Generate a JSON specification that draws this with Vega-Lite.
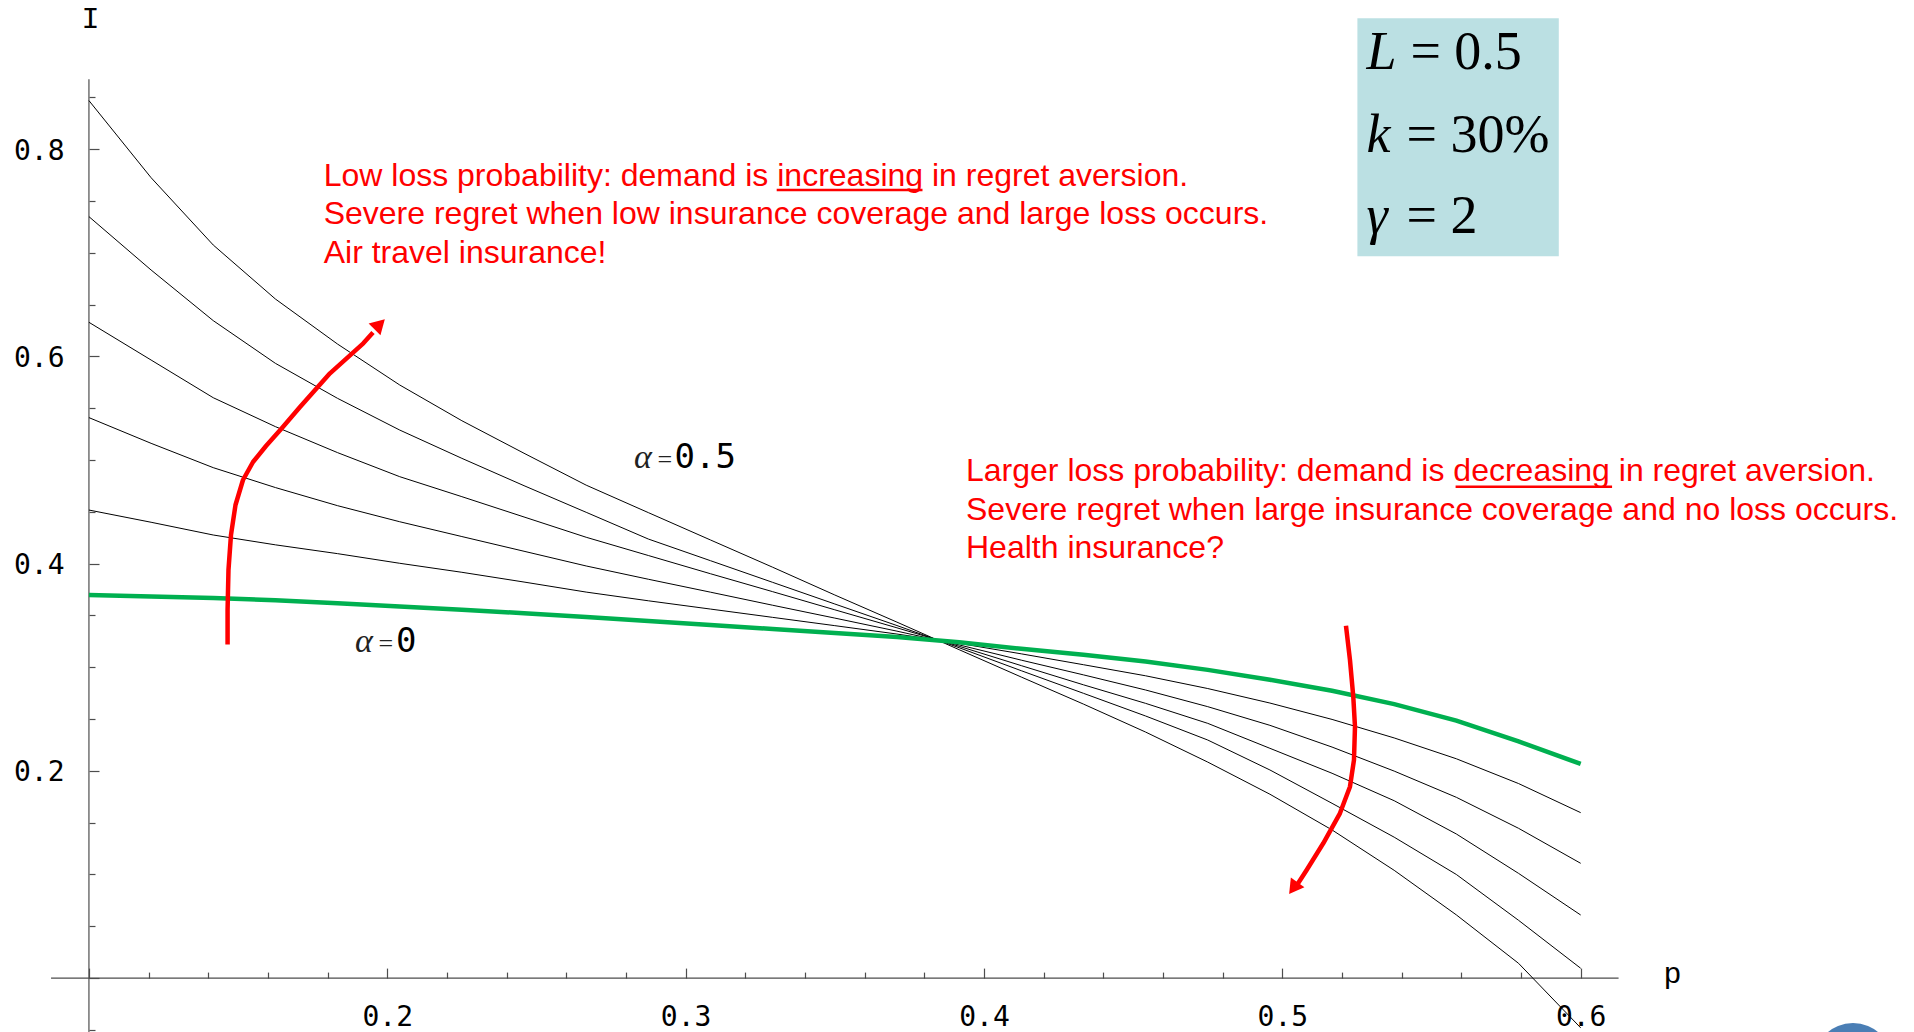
{
"$schema": "https://vega.github.io/schema/vega-lite/v6.json",
"width": 1914,
"height": 1032,
"autosize": {"type": "none"},
"padding": 0,
"background": "white",
"config": {"view": {"stroke": null}},
"resolve": {"axis": {"x": "independent", "y": "independent"}},
"datasets": {
"curves": [
{"a":0,"p":0.1,"I":0.3698},{"a":0,"p":0.120833,"I":0.3683},{"a":0,"p":0.141667,"I":0.3669},{"a":0,"p":0.1625,"I":0.3647},{"a":0,"p":0.183333,"I":0.3618},{"a":0,"p":0.204167,"I":0.3587},{"a":0,"p":0.225,"I":0.3555},{"a":0,"p":0.245833,"I":0.3522},{"a":0,"p":0.266667,"I":0.3486},{"a":0,"p":0.2875,"I":0.3447},{"a":0,"p":0.308333,"I":0.3408},{"a":0,"p":0.329167,"I":0.337},{"a":0,"p":0.35,"I":0.3331},{"a":0,"p":0.370833,"I":0.3292},{"a":0,"p":0.391667,"I":0.3242},{"a":0,"p":0.4125,"I":0.3178},{"a":0,"p":0.433333,"I":0.3122},{"a":0,"p":0.454167,"I":0.3055},{"a":0,"p":0.475,"I":0.2975},{"a":0,"p":0.495833,"I":0.288},{"a":0,"p":0.516667,"I":0.2773},{"a":0,"p":0.5375,"I":0.2645},{"a":0,"p":0.558333,"I":0.2485},{"a":0,"p":0.579167,"I":0.2285},{"a":0,"p":0.6,"I":0.2067},
{"a":0.1,"p":0.1,"I":0.4518},{"a":0.1,"p":0.120833,"I":0.44},{"a":0.1,"p":0.141667,"I":0.4277},{"a":0.1,"p":0.1625,"I":0.4182},{"a":0.1,"p":0.183333,"I":0.4097},{"a":0.1,"p":0.204167,"I":0.4004},{"a":0.1,"p":0.225,"I":0.3917},{"a":0.1,"p":0.245833,"I":0.3823},{"a":0.1,"p":0.266667,"I":0.3726},{"a":0.1,"p":0.2875,"I":0.3642},{"a":0.1,"p":0.308333,"I":0.3562},{"a":0.1,"p":0.329167,"I":0.3482},{"a":0.1,"p":0.35,"I":0.3402},{"a":0.1,"p":0.370833,"I":0.3321},{"a":0.1,"p":0.391667,"I":0.3231},{"a":0.1,"p":0.4125,"I":0.313},{"a":0.1,"p":0.433333,"I":0.3025},{"a":0.1,"p":0.454167,"I":0.2918},{"a":0.1,"p":0.475,"I":0.2795},{"a":0.1,"p":0.495833,"I":0.2655},{"a":0.1,"p":0.516667,"I":0.2497},{"a":0.1,"p":0.5375,"I":0.2318},{"a":0.1,"p":0.558333,"I":0.2117},{"a":0.1,"p":0.579167,"I":0.1878},{"a":0.1,"p":0.6,"I":0.1597},
{"a":0.2,"p":0.1,"I":0.541},{"a":0.2,"p":0.120833,"I":0.5162},{"a":0.2,"p":0.141667,"I":0.4927},{"a":0.2,"p":0.1625,"I":0.4735},{"a":0.2,"p":0.183333,"I":0.456},{"a":0.2,"p":0.204167,"I":0.4405},{"a":0.2,"p":0.225,"I":0.4262},{"a":0.2,"p":0.245833,"I":0.412},{"a":0.2,"p":0.266667,"I":0.3978},{"a":0.2,"p":0.2875,"I":0.385},{"a":0.2,"p":0.308333,"I":0.3725},{"a":0.2,"p":0.329167,"I":0.3599},{"a":0.2,"p":0.35,"I":0.3475},{"a":0.2,"p":0.370833,"I":0.3349},{"a":0.2,"p":0.391667,"I":0.3216},{"a":0.2,"p":0.4125,"I":0.3069},{"a":0.2,"p":0.433333,"I":0.2927},{"a":0.2,"p":0.454167,"I":0.2781},{"a":0.2,"p":0.475,"I":0.262},{"a":0.2,"p":0.495833,"I":0.244},{"a":0.2,"p":0.516667,"I":0.223},{"a":0.2,"p":0.5375,"I":0.1998},{"a":0.2,"p":0.558333,"I":0.1745},{"a":0.2,"p":0.579167,"I":0.1446},{"a":0.2,"p":0.6,"I":0.1108},
{"a":0.3,"p":0.1,"I":0.633},{"a":0.3,"p":0.120833,"I":0.5966},{"a":0.3,"p":0.141667,"I":0.5602},{"a":0.3,"p":0.1625,"I":0.5323},{"a":0.3,"p":0.183333,"I":0.5072},{"a":0.3,"p":0.204167,"I":0.484},{"a":0.3,"p":0.225,"I":0.4647},{"a":0.3,"p":0.245833,"I":0.4451},{"a":0.3,"p":0.266667,"I":0.4255},{"a":0.3,"p":0.2875,"I":0.4079},{"a":0.3,"p":0.308333,"I":0.3903},{"a":0.3,"p":0.329167,"I":0.373},{"a":0.3,"p":0.35,"I":0.3555},{"a":0.3,"p":0.370833,"I":0.3381},{"a":0.3,"p":0.391667,"I":0.3203},{"a":0.3,"p":0.4125,"I":0.3016},{"a":0.3,"p":0.433333,"I":0.2831},{"a":0.3,"p":0.454167,"I":0.2652},{"a":0.3,"p":0.475,"I":0.2459},{"a":0.3,"p":0.495833,"I":0.2218},{"a":0.3,"p":0.516667,"I":0.1977},{"a":0.3,"p":0.5375,"I":0.1712},{"a":0.3,"p":0.558333,"I":0.1391},{"a":0.3,"p":0.579167,"I":0.1011},{"a":0.3,"p":0.6,"I":0.0609},
{"a":0.4,"p":0.1,"I":0.735},{"a":0.4,"p":0.120833,"I":0.6835},{"a":0.4,"p":0.141667,"I":0.6346},{"a":0.4,"p":0.1625,"I":0.5934},{"a":0.4,"p":0.183333,"I":0.5596},{"a":0.4,"p":0.204167,"I":0.529},{"a":0.4,"p":0.225,"I":0.5017},{"a":0.4,"p":0.245833,"I":0.4753},{"a":0.4,"p":0.266667,"I":0.4496},{"a":0.4,"p":0.2875,"I":0.4238},{"a":0.4,"p":0.308333,"I":0.4029},{"a":0.4,"p":0.329167,"I":0.382},{"a":0.4,"p":0.35,"I":0.3611},{"a":0.4,"p":0.370833,"I":0.3403},{"a":0.4,"p":0.391667,"I":0.3189},{"a":0.4,"p":0.4125,"I":0.2967},{"a":0.4,"p":0.433333,"I":0.2749},{"a":0.4,"p":0.454167,"I":0.253},{"a":0.4,"p":0.475,"I":0.2298},{"a":0.4,"p":0.495833,"I":0.2009},{"a":0.4,"p":0.516667,"I":0.1687},{"a":0.4,"p":0.5375,"I":0.136},{"a":0.4,"p":0.558333,"I":0.1},{"a":0.4,"p":0.579167,"I":0.0558},{"a":0.4,"p":0.6,"I":0.0095},
{"a":0.5,"p":0.1,"I":0.847},{"a":0.5,"p":0.120833,"I":0.7726},{"a":0.5,"p":0.141667,"I":0.7076},{"a":0.5,"p":0.1625,"I":0.6555},{"a":0.5,"p":0.183333,"I":0.612},{"a":0.5,"p":0.204167,"I":0.5725},{"a":0.5,"p":0.225,"I":0.538},{"a":0.5,"p":0.245833,"I":0.5066},{"a":0.5,"p":0.266667,"I":0.4758},{"a":0.5,"p":0.2875,"I":0.4493},{"a":0.5,"p":0.308333,"I":0.4229},{"a":0.5,"p":0.329167,"I":0.3966},{"a":0.5,"p":0.35,"I":0.3698},{"a":0.5,"p":0.370833,"I":0.3436},{"a":0.5,"p":0.391667,"I":0.317},{"a":0.5,"p":0.4125,"I":0.2906},{"a":0.5,"p":0.433333,"I":0.2645},{"a":0.5,"p":0.454167,"I":0.2375},{"a":0.5,"p":0.475,"I":0.2085},{"a":0.5,"p":0.495833,"I":0.1775},{"a":0.5,"p":0.516667,"I":0.143},{"a":0.5,"p":0.5375,"I":0.104},{"a":0.5,"p":0.558333,"I":0.061},{"a":0.5,"p":0.579167,"I":0.0143},{"a":0.5,"p":0.6,"I":-0.048}
],
"arrows": [
{"id":"a","k":1,"p":0.14647,"I":0.32201},{"id":"a","k":2,"p":0.14647,"I":0.35531},{"id":"a","k":3,"p":0.14677,"I":0.39392},{"id":"a","k":4,"p":0.14761,"I":0.4277},{"id":"a","k":5,"p":0.14912,"I":0.45666},{"id":"a","k":6,"p":0.15163,"I":0.48079},{"id":"a","k":7,"p":0.15499,"I":0.49817},{"id":"a","k":8,"p":0.15934,"I":0.51361},{"id":"a","k":9,"p":0.16471,"I":0.53099},{"id":"a","k":10,"p":0.17074,"I":0.55126},{"id":"a","k":11,"p":0.18079,"I":0.58378},{"id":"a","k":12,"p":0.19196,"I":0.61274},{"id":"a","k":13,"p":0.19521,"I":0.62317},
{"id":"b","k":1,"p":0.52133,"I":0.34015},{"id":"b","k":2,"p":0.52267,"I":0.30705},{"id":"b","k":3,"p":0.52378,"I":0.27162},{"id":"b","k":4,"p":0.52435,"I":0.24266},{"id":"b","k":5,"p":0.52401,"I":0.21052},{"id":"b","k":6,"p":0.52267,"I":0.18475},{"id":"b","k":7,"p":0.51931,"I":0.15907},{"id":"b","k":8,"p":0.51372,"I":0.13012},{"id":"b","k":9,"p":0.50816,"I":0.10434},{"id":"b","k":10,"p":0.50491,"I":0.08986}
],
"headA": [{"p":0.19745,"I":0.63108}],
"headB": [{"p":0.5037,"I":0.08678}],
"axislines": [{"p":0.0873,"p2":0.6127,"I":0,"I2":0},{"p":0.1,"p2":0.1,"I":-0.07,"I2":0.8676}],
"box": [{"p":0.52516,"p2":0.59266,"I":0.69672,"I2":0.92645}],
"notes": [
{"p":0.17868,"I":0.76486,"t":"Low loss probability: demand is increasing in regret aversion."},
{"p":0.17868,"I":0.7278,"t":"Severe regret when low insurance coverage and large loss occurs."},
{"p":0.17868,"I":0.69073,"t":"Air travel insurance!"},
{"p":0.39397,"I":0.47983,"t":"Larger loss probability: demand is decreasing in regret aversion."},
{"p":0.39397,"I":0.44257,"t":"Severe regret when large insurance coverage and no loss occurs."},
{"p":0.39397,"I":0.40531,"t":"Health insurance?"}
],
"underlines": [{"p":0.33052,"p2":0.37939,"I":0.76071},{"p":0.55807,"p2":0.61052,"I":0.47432}],
"boxvars": [{"p":0.5282,"I":0.87722,"t":"L"},{"p":0.5282,"I":0.79768,"t":"k"},{"p":0.5282,"I":0.71892,"t":"γ"}],
"boxvals": [{"p":0.54292,"I":0.87722,"t":"= 0.5"},{"p":0.54161,"I":0.79768,"t":"= 30%"},{"p":0.54161,"I":0.71892,"t":"= 2"}],
"alphas": [{"p":0.28269,"I":0.49208,"t":"α"},{"p":0.18918,"I":0.31448,"t":"α"}],
"equals": [{"p":0.2906,"I":0.49208,"t":"="},{"p":0.19702,"I":0.31448,"t":"="}],
"alphanums": [{"p":0.2963,"I":0.49208,"t":"0.5"},{"p":0.20292,"I":0.31448,"t":"0"}],
"axisnames": [{"p":0.10052,"I":0.91737,"t":"I"},{"p":0.63077,"I":-0.00502,"t":"p"}],
"corner": [{"p":0.69127,"I":-0.0812}]
},
"layer": [
{"data":{"name":"box"},"mark":{"type":"rect","color":"#BBE0E3"},
 "encoding":{"x":{"field":"p","type":"quantitative","scale":{"domain":[0.07019,0.71172],"nice":false,"zero":false},"axis":null},"x2":{"field":"p2"},
 "y":{"field":"I","type":"quantitative","scale":{"domain":[-0.05203,0.94411],"nice":false,"zero":false},"axis":null},"y2":{"field":"I2"}}},
{"data":{"name":"axislines"},"mark":{"type":"rule","color":"#4d4d4d","strokeWidth":1.2},
 "encoding":{"x":{"field":"p","type":"quantitative","scale":{"domain":[0.07019,0.71172],"nice":false,"zero":false},"axis":null},"x2":{"field":"p2"},
 "y":{"field":"I","type":"quantitative","scale":{"domain":[-0.05203,0.94411],"nice":false,"zero":false},"axis":null},"y2":{"field":"I2"}}},
{"data":{"name":"curves"},"transform":[{"filter":"datum.a > 0"}],
 "mark":{"type":"line","color":"black","strokeWidth":1},
 "encoding":{
  "x":{"field":"p","type":"quantitative","scale":{"domain":[0.07019,0.71172],"nice":false,"zero":false},
   "axis":{"orient":"top","offset":-978.1,"values":[0.1,0.12,0.14,0.16,0.18,0.2,0.22,0.24,0.26,0.28,0.3,0.32,0.34,0.36,0.38,0.4,0.42,0.44,0.46,0.48,0.5,0.52,0.54,0.56,0.58,0.6],
    "labels":false,"domain":false,"grid":false,"title":null,"ticks":true,"tickColor":"#4d4d4d","tickWidth":1.2,
    "tickSize":{"condition":{"test":"abs(datum.value*10-round(datum.value*10))<0.001","value":10},"value":6}}},
  "y":{"field":"I","type":"quantitative","scale":{"domain":[-0.05203,0.94411],"nice":false,"zero":false},
   "axis":{"orient":"right","offset":-1825,"values":[-0.05,0,0.05,0.1,0.15,0.2,0.25,0.3,0.35,0.4,0.45,0.5,0.55,0.6,0.65,0.7,0.75,0.8,0.85],
    "labels":false,"domain":false,"grid":false,"title":null,"ticks":true,"tickColor":"#4d4d4d","tickWidth":1.2,
    "tickSize":{"condition":{"test":"abs(datum.value*5-round(datum.value*5))<0.001","value":10},"value":6}}},
  "detail":{"field":"a","type":"nominal"}}},
{"data":{"name":"curves"},"transform":[{"filter":"datum.a == 0"}],
 "mark":{"type":"line","color":"#00B050","strokeWidth":4.5},
 "encoding":{
  "x":{"field":"p","type":"quantitative","scale":{"domain":[0.07019,0.71172],"nice":false,"zero":false},
   "axis":{"orient":"bottom","offset":-53.9,"values":[0.2,0.3,0.4,0.5,0.6],"format":".1f","ticks":false,"tickSize":0,"domain":false,"grid":false,"title":null,
    "labelFont":"DejaVu Sans Mono","labelFontSize":28,"labelColor":"black","labelPadding":39,"labelBaseline":"middle","labelFlush":false,"labelOverlap":false}},
  "y":{"field":"I","type":"quantitative","scale":{"domain":[-0.05203,0.94411],"nice":false,"zero":false},
   "axis":{"orient":"left","offset":-89,"values":[0.2,0.4,0.6,0.8],"format":".1f","ticks":false,"tickSize":0,"domain":false,"grid":false,"title":null,
    "labelFont":"DejaVu Sans Mono","labelFontSize":28,"labelColor":"black","labelPadding":25,"labelOffset":2,"labelBaseline":"middle","labelFlush":false,"labelOverlap":false}}}},
{"data":{"name":"arrows"},"mark":{"type":"line","color":"#FF0000","strokeWidth":4.5,"strokeJoin":"round"},
 "encoding":{"x":{"field":"p","type":"quantitative","scale":{"domain":[0.07019,0.71172],"nice":false,"zero":false},"axis":null},
 "y":{"field":"I","type":"quantitative","scale":{"domain":[-0.05203,0.94411],"nice":false,"zero":false},"axis":null},
 "detail":{"field":"id","type":"nominal"},"order":{"field":"k","type":"quantitative"}}},
{"data":{"name":"headA"},"mark":{"type":"point","shape":"triangle-up","filled":true,"color":"#FF0000","opacity":1,"size":280,"angle":45,"strokeWidth":0},
 "encoding":{"x":{"field":"p","type":"quantitative","scale":{"domain":[0.07019,0.71172],"nice":false,"zero":false},"axis":null},
 "y":{"field":"I","type":"quantitative","scale":{"domain":[-0.05203,0.94411],"nice":false,"zero":false},"axis":null}}},
{"data":{"name":"headB"},"mark":{"type":"point","shape":"triangle-up","filled":true,"color":"#FF0000","opacity":1,"size":280,"angle":216,"strokeWidth":0},
 "encoding":{"x":{"field":"p","type":"quantitative","scale":{"domain":[0.07019,0.71172],"nice":false,"zero":false},"axis":null},
 "y":{"field":"I","type":"quantitative","scale":{"domain":[-0.05203,0.94411],"nice":false,"zero":false},"axis":null}}},
{"data":{"name":"underlines"},"mark":{"type":"rule","color":"#FF0000","strokeWidth":2.5},
 "encoding":{"x":{"field":"p","type":"quantitative","scale":{"domain":[0.07019,0.71172],"nice":false,"zero":false},"axis":null},"x2":{"field":"p2"},
 "y":{"field":"I","type":"quantitative","scale":{"domain":[-0.05203,0.94411],"nice":false,"zero":false},"axis":null}}},
{"data":{"name":"notes"},"mark":{"type":"text","align":"left","baseline":"alphabetic","font":"Liberation Sans","fontSize":32,"color":"#FF0000"},
 "encoding":{"x":{"field":"p","type":"quantitative","scale":{"domain":[0.07019,0.71172],"nice":false,"zero":false},"axis":null},
 "y":{"field":"I","type":"quantitative","scale":{"domain":[-0.05203,0.94411],"nice":false,"zero":false},"axis":null},"text":{"field":"t"}}},
{"data":{"name":"boxvars"},"mark":{"type":"text","align":"left","baseline":"alphabetic","font":"Liberation Serif","fontStyle":"italic","fontSize":54,"color":"black"},
 "encoding":{"x":{"field":"p","type":"quantitative","scale":{"domain":[0.07019,0.71172],"nice":false,"zero":false},"axis":null},
 "y":{"field":"I","type":"quantitative","scale":{"domain":[-0.05203,0.94411],"nice":false,"zero":false},"axis":null},"text":{"field":"t"}}},
{"data":{"name":"boxvals"},"mark":{"type":"text","align":"left","baseline":"alphabetic","font":"Liberation Serif","fontSize":54,"color":"black"},
 "encoding":{"x":{"field":"p","type":"quantitative","scale":{"domain":[0.07019,0.71172],"nice":false,"zero":false},"axis":null},
 "y":{"field":"I","type":"quantitative","scale":{"domain":[-0.05203,0.94411],"nice":false,"zero":false},"axis":null},"text":{"field":"t"}}},
{"data":{"name":"alphas"},"mark":{"type":"text","align":"left","baseline":"alphabetic","font":"Liberation Serif","fontStyle":"italic","fontSize":34,"color":"#222222"},
 "encoding":{"x":{"field":"p","type":"quantitative","scale":{"domain":[0.07019,0.71172],"nice":false,"zero":false},"axis":null},
 "y":{"field":"I","type":"quantitative","scale":{"domain":[-0.05203,0.94411],"nice":false,"zero":false},"axis":null},"text":{"field":"t"}}},
{"data":{"name":"equals"},"mark":{"type":"text","align":"left","baseline":"alphabetic","font":"Liberation Serif","fontSize":26,"color":"#222222"},
 "encoding":{"x":{"field":"p","type":"quantitative","scale":{"domain":[0.07019,0.71172],"nice":false,"zero":false},"axis":null},
 "y":{"field":"I","type":"quantitative","scale":{"domain":[-0.05203,0.94411],"nice":false,"zero":false},"axis":null},"text":{"field":"t"}}},
{"data":{"name":"alphanums"},"mark":{"type":"text","align":"left","baseline":"alphabetic","font":"DejaVu Sans Mono","fontSize":34,"color":"black"},
 "encoding":{"x":{"field":"p","type":"quantitative","scale":{"domain":[0.07019,0.71172],"nice":false,"zero":false},"axis":null},
 "y":{"field":"I","type":"quantitative","scale":{"domain":[-0.05203,0.94411],"nice":false,"zero":false},"axis":null},"text":{"field":"t"}}},
{"data":{"name":"axisnames"},"mark":{"type":"text","align":"center","baseline":"alphabetic","font":"Liberation Mono","fontSize":30,"color":"black"},
 "encoding":{"x":{"field":"p","type":"quantitative","scale":{"domain":[0.07019,0.71172],"nice":false,"zero":false},"axis":null},
 "y":{"field":"I","type":"quantitative","scale":{"domain":[-0.05203,0.94411],"nice":false,"zero":false},"axis":null},"text":{"field":"t"}}},
{"data":{"name":"corner"},"mark":{"type":"point","shape":"circle","filled":true,"color":"#4A7EB5","opacity":1,"size":6147,"strokeWidth":0},
 "encoding":{"x":{"field":"p","type":"quantitative","scale":{"domain":[0.07019,0.71172],"nice":false,"zero":false},"axis":null},
 "y":{"field":"I","type":"quantitative","scale":{"domain":[-0.05203,0.94411],"nice":false,"zero":false},"axis":null}}}
]
}
